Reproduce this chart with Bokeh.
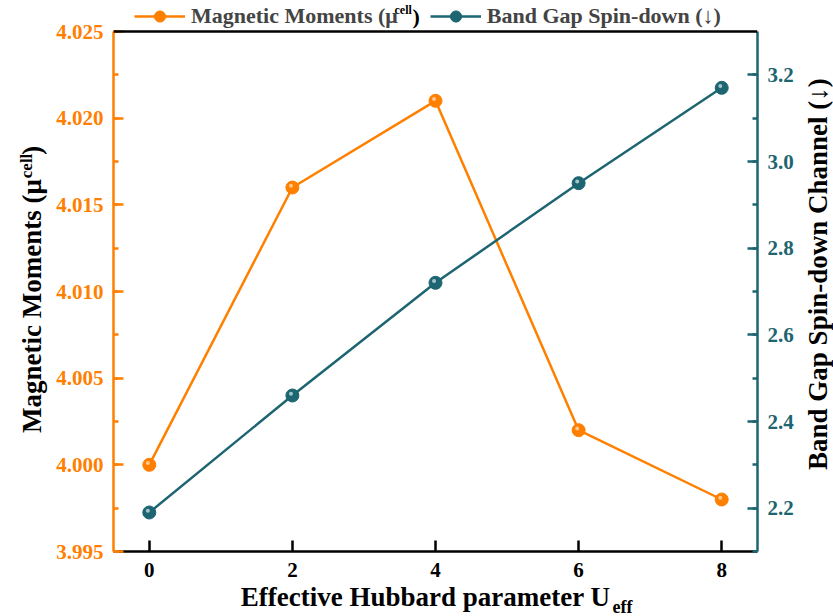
from math import pi

from bokeh.core.properties import value
from bokeh.embed import file_html
from bokeh.layouts import column, row
from bokeh.models import (ColumnDataSource, FixedTicker, Label, Legend, LegendItem,
                          LinearAxis, NumeralTickFormatter, Range1d,
                          SingleIntervalTicker, Span)
from bokeh.plotting import figure
from bokeh.resources import INLINE
from bokeh.transform import dodge

# ---- data -------------------------------------------------------------
u_eff = [0, 2, 4, 6, 8]
magnetic_moments = [4.000, 4.016, 4.021, 4.002, 3.998]
band_gap_down = [2.19, 2.46, 2.72, 2.95, 3.17]
u_ticks = [0, 2, 4, 6, 8]

# ---- style ------------------------------------------------------------
ORANGE = "#FF8000"
ORANGE_HI = "#FFC890"
TEAL = "#1D6570"
TEAL_HI = "#A3C6CB"
FONT = "Liberation Serif"
TITLE_PX = 27
MID = 0.34          # distance baseline -> em-box middle, as a fraction of font size

# page geometry (px)
PAGE_W, PAGE_H = 833, 616
STRIP_L, STRIP_R, STRIP_B = 50, 33, 30
MAIN_W, MAIN_H = PAGE_W - STRIP_L - STRIP_R, PAGE_H - STRIP_B
AX_L, AX_R, AX_T, AX_B = 113, 757, 31, 551      # where the axes sit on the page

# nominal axis ranges
X0, X1 = -0.5, 8.5
Y0, Y1 = 3.995, 4.025
G0, G1 = 2.1, 3.3

# the frame reaches up to the page top so the legend can live above the axes
Y_TOP = Y1 + AX_T * (Y1 - Y0) / (AX_B - AX_T)
G_TOP = G1 + AX_T * (G1 - G0) / (AX_B - AX_T)


def dx(px):
    """page pixel column -> x data value"""
    return X0 + (px - AX_L) * (X1 - X0) / (AX_R - AX_L)


def dy(py):
    """page pixel row -> left-axis data value"""
    return Y1 - (py - AX_T) * (Y1 - Y0) / (AX_B - AX_T)


src = ColumnDataSource(dict(u=u_eff, mm=magnetic_moments, gap=band_gap_down))

p = figure(width=MAIN_W, height=MAIN_H,
           x_range=Range1d(X0, X1), y_range=Range1d(Y0, Y_TOP),
           output_backend="svg", toolbar_location=None,
           min_border_left=AX_L - STRIP_L,
           min_border_right=PAGE_W - STRIP_R - AX_R,
           min_border_top=0, min_border_bottom=MAIN_H - AX_B)
p.extra_y_ranges = {"gap": Range1d(G0, G_TOP)}
p.grid.visible = False
p.outline_line_color = None
p.background_fill_color = "white"
p.border_fill_color = "white"


def style_axis(ax, color, tick_len, minor_len, standoff):
    ax.axis_line_color = color
    ax.axis_line_width = 2.5
    ax.major_tick_line_color = color
    ax.major_tick_line_width = 2.5
    ax.major_tick_in = tick_len
    ax.major_tick_out = 0
    ax.minor_tick_line_color = color
    ax.minor_tick_line_width = 2.5
    ax.minor_tick_in = minor_len
    ax.minor_tick_out = 0
    ax.major_label_text_color = color
    ax.major_label_text_font = FONT
    ax.major_label_text_font_style = "bold"
    ax.major_label_text_font_size = "21px"
    ax.major_label_standoff = standoff


xaxis = p.xaxis[0]
xaxis.ticker = FixedTicker(ticks=u_ticks)
style_axis(xaxis, "black", 11, 0, 11)

yaxis = p.yaxis[0]
yaxis.ticker = SingleIntervalTicker(interval=0.005, num_minor_ticks=2)
yaxis.formatter = NumeralTickFormatter(format="0.000")
yaxis.bounds = (Y0, Y1)
style_axis(yaxis, ORANGE, 10, 5, 10)

raxis = LinearAxis(y_range_name="gap")
raxis.ticker = SingleIntervalTicker(interval=0.2, num_minor_ticks=2)
raxis.formatter = NumeralTickFormatter(format="0.0")
raxis.bounds = (G0, G1)
style_axis(raxis, TEAL, 10, 5, 10)
p.add_layout(raxis, "right")

# closing line along the top of the axes box
p.add_layout(Span(location=Y1, dimension="width", line_color="black", line_width=2.5))

# ---- series -----------------------------------------------------------
mm_line = p.line("u", "mm", source=src, line_color=ORANGE, line_width=2.5)
mm_dots = p.scatter("u", "mm", source=src, size=13, fill_color=ORANGE, line_color=ORANGE)
p.scatter(dodge("u", -0.02), dodge("mm", 0.0001), source=src, size=4,
          fill_color=ORANGE_HI, line_color=None)

gap_line = p.line("u", "gap", source=src, line_color=TEAL, line_width=2.5, y_range_name="gap")
gap_dots = p.scatter("u", "gap", source=src, size=13, fill_color=TEAL, line_color=TEAL,
                     y_range_name="gap")
p.scatter(dodge("u", -0.02), dodge("gap", 0.004), source=src, size=4,
          fill_color=TEAL_HI, line_color=None, y_range_name="gap")

# ---- legend above the axes box ------------------------------------------
legend = Legend(
    items=[LegendItem(label=value("Magnetic Moments (μ"), renderers=[mm_line, mm_dots]),
           LegendItem(label=value("Band Gap Spin-down (↓)"), renderers=[gap_line, gap_dots])],
    orientation="horizontal", location=(134 - AX_L, AX_B - 30),
    padding=0, margin=0, spacing=32, glyph_width=51, glyph_height=28,
    label_height=28, label_standoff=6,
    label_text_font=FONT, label_text_font_style="bold", label_text_font_size="22px",
    border_line_color=None, background_fill_alpha=0)
p.add_layout(legend, "center")


def label(text, px, baseline_py, size):
    p.add_layout(Label(x=dx(px), y=dy(baseline_py - MID * size), text=text,
                       text_font=FONT, text_font_style="bold",
                       text_font_size=f"{size}px", text_color="black",
                       text_align="left", text_baseline="middle"))


# superscript closing the first legend entry
label("cell", 394, 14, 12)
label(")", 412, 23, 22)


# ---- strips holding the axis titles (coordinates in page pixels) -------
def strip(width, height, x0, y0):
    s = figure(width=width, height=height,
               x_range=Range1d(x0, x0 + width), y_range=Range1d(y0 + height, y0),
               x_axis_location=None, y_axis_location=None,
               output_backend="svg", toolbar_location=None,
               min_border=0, min_border_left=0, min_border_right=0,
               min_border_top=0, min_border_bottom=0)
    s.grid.visible = False
    s.outline_line_color = None
    s.background_fill_color = "white"
    s.border_fill_color = "white"
    return s


def title_text(s, x, y, text, size, align="left", vertical=False):
    """x, y give the start/centre/end point on the text baseline"""
    if vertical:
        x, angle = x - MID * size, pi / 2
    else:
        y, angle = y - MID * size, 0.0
    s.text(x=[x], y=[y], text=[text], angle=angle,
           text_font=value(FONT), text_font_style="bold", text_font_size=f"{size}px",
           text_color="black", text_align=align, text_baseline="middle",
           text_line_height=1.0)


left = strip(STRIP_L, MAIN_H, 0, 0)
title_text(left, 40.5, 190, "Magnetic Moments (μ", TITLE_PX, align="right", vertical=True)
title_text(left, 32, 189, "cell", 17, vertical=True)
title_text(left, 40.5, 164, ")", TITLE_PX, vertical=True)

right = strip(STRIP_R, MAIN_H, PAGE_W - STRIP_R, 0)
title_text(right, 827, 291, "Band Gap Spin-down Channel (↓)", TITLE_PX,
           align="center", vertical=True)

bottom = strip(PAGE_W, STRIP_B, 0, MAIN_H)
title_text(bottom, 610, 606, "Effective Hubbard parameter U", TITLE_PX, align="right")
title_text(bottom, 612, 613, "eff", 18)

page = column(row(left, p, right, spacing=0), bottom, spacing=0)

open("out.html", "w").write(file_html(page, INLINE))
